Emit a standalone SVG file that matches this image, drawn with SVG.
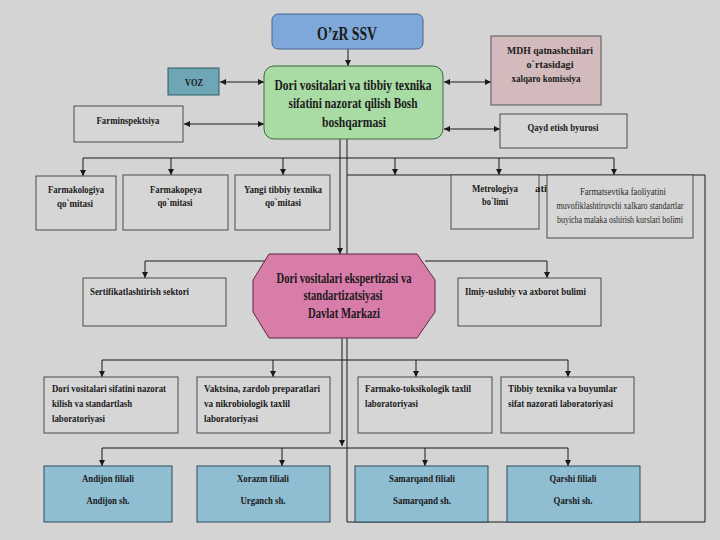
<svg xmlns="http://www.w3.org/2000/svg" width="720" height="540" viewBox="0 0 720 540">
<defs>
<marker id="arr" viewBox="0 0 8 8" refX="8" refY="4" markerWidth="6" markerHeight="6" orient="auto-start-reverse" markerUnits="userSpaceOnUse">
<path d="M0,0 L8,4 L0,8 z" fill="#1a1a1a"/>
</marker>
<style>
.t{font-family:"Liberation Serif","Times New Roman",serif;font-weight:bold;fill:#1a1a1a;}
.s{font-size:11px;}
.m{font-size:11px;text-anchor:middle;}
.b{font-size:15px;text-anchor:middle;}
.n{font-family:"Liberation Serif","Times New Roman",serif;font-size:9.5px;fill:#2a2a2a;text-anchor:middle;}
.box{fill:#d6d6d6;stroke:#4a4a4a;stroke-width:1;}
.br{fill:#8fbdd2;stroke:#2e4a58;stroke-width:1;}
.c{fill:none;stroke:#1a1a1a;stroke-width:1;}
.ca{fill:none;stroke:#1a1a1a;stroke-width:1;marker-end:url(#arr);}
.cd{fill:none;stroke:#1a1a1a;stroke-width:1;marker-start:url(#arr);marker-end:url(#arr);}
</style>
</defs>
<rect width="720" height="540" fill="#d4d4d4"/>

<g id="connectors">
<path class="c" d="M347,175 H705 V522 H347 Z"/>
<path class="ca" d="M348,49 V66"/>
<path class="cd" d="M220,82 H264"/>
<path class="cd" d="M184,124 H264"/>
<path class="cd" d="M444,82 H491"/>
<path class="cd" d="M444,129 H500"/>
<path class="ca" d="M340,139 V254"/>
<path class="c" d="M347,139 V175"/>
<path class="c" d="M83,158 H614"/>
<path class="ca" d="M83,158 V176"/>
<path class="ca" d="M171,158 V175"/>
<path class="ca" d="M283,158 V175"/>
<path class="ca" d="M395,158 V175"/>
<path class="ca" d="M499,158 V175"/>
<path class="ca" d="M614,158 V175"/>
<path class="ca" d="M265,261 H145 V278"/>
<path class="ca" d="M425,261 H547 V278"/>
<path class="ca" d="M342,338 V446"/>
<path class="c" d="M102,360 H568"/>
<path class="ca" d="M102,360 V377"/>
<path class="ca" d="M273,360 V377"/>
<path class="ca" d="M416,360 V377"/>
<path class="ca" d="M568,360 V377"/>
<path class="c" d="M102,448 H568"/>
<path class="ca" d="M102,448 V466"/>
<path class="ca" d="M282,448 V466"/>
<path class="ca" d="M425,448 V466"/>
<path class="ca" d="M568,448 V466"/>
</g>

<g id="ozr">
<rect x="272" y="14" width="151" height="35" rx="6" fill="#7ea8d9" stroke="#46648f"/>
<text class="t" x="347" y="40" font-size="18" text-anchor="middle" textLength="60" lengthAdjust="spacingAndGlyphs">O’zR SSV</text>
</g>

<g id="bosh">
<rect x="264" y="66" width="179" height="73" rx="10" fill="#a9dba4" stroke="#3d6a3d"/>
<text class="t b" x="353" y="90" textLength="157" lengthAdjust="spacingAndGlyphs">Dori vositalari va tibbiy texnika</text>
<text class="t b" x="353" y="108" textLength="129" lengthAdjust="spacingAndGlyphs">sifatini nazorat qilish Bosh</text>
<text class="t b" x="354" y="127" textLength="64" lengthAdjust="spacingAndGlyphs">boshqarmasi</text>
</g>

<g id="voz">
<rect x="168" y="68" width="51" height="27" fill="#6ea6b6" stroke="#2f5d6b"/>
<text class="t m" x="194" y="86" textLength="18" lengthAdjust="spacingAndGlyphs">VOZ</text>
</g>

<g id="farminspektsiya">
<rect class="box" x="74" y="106" width="109" height="36"/>
<text class="t m" x="128" y="124" textLength="63" lengthAdjust="spacingAndGlyphs">Farminspektsiya</text>
</g>

<g id="mdh">
<rect x="491" y="36" width="110" height="69" fill="#d3babc" stroke="#555"/>
<text class="t m" x="550" y="54" textLength="86" lengthAdjust="spacingAndGlyphs">MDH qatnashchilari</text>
<text class="t m" x="550" y="68" textLength="47" lengthAdjust="spacingAndGlyphs">o`rtasidagi</text>
<text class="t m" x="546" y="82" textLength="69" lengthAdjust="spacingAndGlyphs">xalqaro komissiya</text>
</g>

<g id="qayd">
<rect class="box" x="500" y="114" width="127" height="34"/>
<text class="t m" x="563" y="131" textLength="71" lengthAdjust="spacingAndGlyphs">Qayd etish byurosi</text>
</g>

<g id="farmakologiya">
<rect class="box" x="36" y="176" width="80" height="54"/>
<text class="t m" x="76" y="193" textLength="56" lengthAdjust="spacingAndGlyphs">Farmakologiya</text>
<text class="t m" x="75" y="207" textLength="36" lengthAdjust="spacingAndGlyphs">qo`mitasi</text>
</g>

<g id="farmakopeya">
<rect class="box" x="123" y="175" width="105" height="55"/>
<text class="t m" x="176" y="193" textLength="52" lengthAdjust="spacingAndGlyphs">Farmakopeya</text>
<text class="t m" x="175" y="206" textLength="35" lengthAdjust="spacingAndGlyphs">qo`mitasi</text>
</g>

<g id="yangi">
<rect class="box" x="235" y="175" width="95" height="55"/>
<text class="t m" x="283" y="193" textLength="78" lengthAdjust="spacingAndGlyphs">Yangi tibbiy texnika</text>
<text class="t m" x="283" y="206" textLength="36" lengthAdjust="spacingAndGlyphs">qo`mitasi</text>
</g>

<g id="metrologiya">
<rect class="box" x="451" y="175" width="88" height="54"/>
<text class="t m" x="495" y="192" textLength="46" lengthAdjust="spacingAndGlyphs">Metrologiya</text>
<text class="t m" x="495" y="205" textLength="26" lengthAdjust="spacingAndGlyphs">bo`limi</text>
<text class="t s" x="535" y="192" textLength="12" lengthAdjust="spacingAndGlyphs">ati</text>
</g>

<g id="farmatsevtika">
<rect class="box" x="547" y="175" width="146" height="63"/>
<text class="n" x="623" y="195" textLength="86" lengthAdjust="spacingAndGlyphs">Farmatsevtika faoliyatini</text>
<text class="n" x="620" y="209" textLength="127" lengthAdjust="spacingAndGlyphs">muvofiklashtiruvchi xalkaro standartlar</text>
<text class="n" x="620" y="223" textLength="126" lengthAdjust="spacingAndGlyphs">buyicha malaka oshirish kurslari bolimi</text>
</g>

<g id="markaz">
<polygon points="269,254 417,254 435,280 435,312 417,338 269,338 253,312 253,280" fill="#d87ca9" stroke="#5e2642"/>
<text class="t b" x="344" y="283" textLength="135" lengthAdjust="spacingAndGlyphs">Dori vositalari ekspertizasi va</text>
<text class="t b" x="343" y="300" textLength="79" lengthAdjust="spacingAndGlyphs">standartizatsiyasi</text>
<text class="t b" x="344" y="318" textLength="72" lengthAdjust="spacingAndGlyphs">Davlat Markazi</text>
</g>

<g id="sertifikat">
<rect class="box" x="83" y="278" width="143" height="48"/>
<text class="t s" x="90" y="295" textLength="99" lengthAdjust="spacingAndGlyphs">Sertifikatlashtirish sektori</text>
</g>

<g id="ilmiy">
<rect class="box" x="458" y="278" width="143" height="48"/>
<text class="t s" x="465" y="295" textLength="121" lengthAdjust="spacingAndGlyphs">Ilmiy-uslubiy va axborot bulimi</text>
</g>

<g id="lab1">
<rect class="box" x="44" y="377" width="134" height="56"/>
<text class="t s" x="52" y="392" textLength="114" lengthAdjust="spacingAndGlyphs">Dori vositalari sifatini nazorat</text>
<text class="t s" x="52" y="407" textLength="80" lengthAdjust="spacingAndGlyphs">kilish va standartlash</text>
<text class="t s" x="52" y="422" textLength="53" lengthAdjust="spacingAndGlyphs">laboratoriyasi</text>
</g>

<g id="lab2">
<rect class="box" x="197" y="377" width="133" height="56"/>
<text class="t s" x="204" y="392" textLength="116" lengthAdjust="spacingAndGlyphs">Vaktsina, zardob  preparatlari</text>
<text class="t s" x="204" y="407" textLength="86" lengthAdjust="spacingAndGlyphs">va nikrobiologik taxlil</text>
<text class="t s" x="204" y="422" textLength="54" lengthAdjust="spacingAndGlyphs">laboratoriyasi</text>
</g>

<g id="lab3">
<rect class="box" x="358" y="377" width="134" height="56"/>
<text class="t s" x="365" y="392" textLength="106" lengthAdjust="spacingAndGlyphs">Farmako-toksikologik taxlil</text>
<text class="t s" x="365" y="407" textLength="53" lengthAdjust="spacingAndGlyphs">laboratoriyasi</text>
</g>

<g id="lab4">
<rect class="box" x="501" y="377" width="133" height="56"/>
<text class="t s" x="508" y="392" textLength="109" lengthAdjust="spacingAndGlyphs">Tibbiy  texnika va buyumlar</text>
<text class="t s" x="508" y="407" textLength="105" lengthAdjust="spacingAndGlyphs">sifat nazorati laboratoriyasi</text>
</g>

<g id="andijon">
<rect class="br" x="44" y="466" width="128" height="56"/>
<text class="t m" x="108" y="482" textLength="52" lengthAdjust="spacingAndGlyphs">Andijon filiali</text>
<text class="t m" x="108" y="504" textLength="43" lengthAdjust="spacingAndGlyphs">Andijon sh.</text>
</g>

<g id="xorazm">
<rect class="br" x="197" y="466" width="133" height="56"/>
<text class="t m" x="263" y="482" textLength="52" lengthAdjust="spacingAndGlyphs">Xorazm filiali</text>
<text class="t m" x="263" y="504" textLength="45" lengthAdjust="spacingAndGlyphs">Urganch sh.</text>
</g>

<g id="samarqand">
<rect class="br" x="355" y="466" width="133" height="56"/>
<text class="t m" x="422" y="482" textLength="66" lengthAdjust="spacingAndGlyphs">Samarqand filiali</text>
<text class="t m" x="422" y="504" textLength="58" lengthAdjust="spacingAndGlyphs">Samarqand sh.</text>
</g>

<g id="qarshi">
<rect class="br" x="507" y="466" width="133" height="56"/>
<text class="t m" x="573" y="482" textLength="47" lengthAdjust="spacingAndGlyphs">Qarshi filiali</text>
<text class="t m" x="573" y="504" textLength="39" lengthAdjust="spacingAndGlyphs">Qarshi sh.</text>
</g>
</svg>
